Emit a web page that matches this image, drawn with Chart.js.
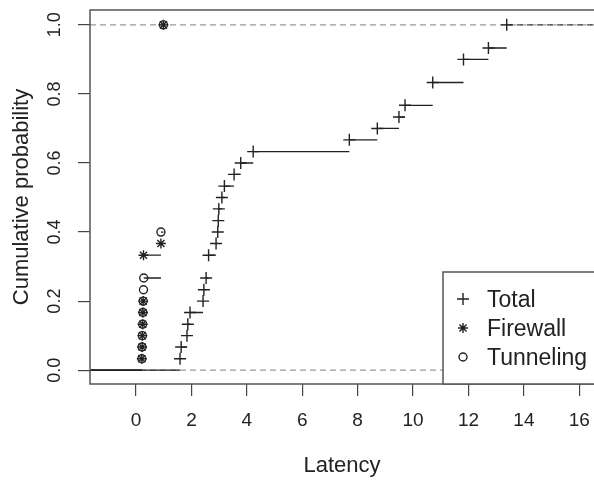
<!DOCTYPE html>
<html>
<head>
<meta charset="utf-8">
<script src="https://cdn.jsdelivr.net/npm/chart.js@4.4.0/dist/chart.umd.min.js"></script>
<style>
  body { margin: 0; background: #fff; }
  #wrap { width: 594px; height: 483px; position: relative; }
</style>
</head>
<body>
<div id="wrap"><canvas id="chart"></canvas></div>
<script>
// values (latency, cumulative probability)
const totalX = [1.59, 1.63, 1.84, 1.87, 1.95, 2.42, 2.45, 2.53, 2.62, 2.89, 2.95, 2.97, 2.99, 3.10, 3.19, 3.54, 3.78, 4.23, 7.70, 8.71, 9.49, 9.71, 10.71, 11.82, 12.72, 13.38]
const totalY = [0.033, 0.067, 0.100, 0.133, 0.167, 0.200, 0.233, 0.267, 0.333, 0.367, 0.400, 0.433, 0.467, 0.500, 0.533, 0.567, 0.600, 0.633, 0.667, 0.700, 0.733, 0.767, 0.833, 0.900, 0.933, 1.000]

const firewallX = [0.21, 0.22, 0.23, 0.24, 0.25, 0.26, 0.27, 0.90, 0.99]
const firewallY = [0.033, 0.067, 0.100, 0.133, 0.167, 0.200, 0.333, 0.367, 1.000]

const tunnelX = [0.21, 0.22, 0.23, 0.24, 0.25, 0.26, 0.27, 0.28, 0.90, 0.99]
const tunnelY = [0.033, 0.067, 0.100, 0.133, 0.167, 0.200, 0.233, 0.267, 0.400, 1.000]

const xTicks = [0, 2, 4, 6, 8, 10, 12, 14, 16]
const yTicks = [0, 0.2, 0.4, 0.6, 0.8, 1.0]

const xMin = -1.66, xMax = 16.53
const yMin = -0.04, yMax = 1.043

const font = "'Liberation Sans', Arial, Helvetica, sans-serif"
const ink = "#222"

// horizontal pieces of the step function, broken by null gaps
function steps(xs, ys) {
    const pts = [{x: xMin, y: 0}, {x: xs[0], y: 0}, {x: xs[0], y: null}]
    for (let i = 0; i < xs.length - 1; i++) {
        pts.push({x: xs[i], y: ys[i]}, {x: xs[i + 1], y: ys[i]}, {x: xs[i + 1], y: null})
    }
    return pts
}
const pts = (xs, ys) => xs.map((x, i) => ({x: x, y: ys[i]}))

const lineDs = (data, color, dash) => ({
    data: data, showLine: true, pointRadius: 0, borderColor: color,
    borderWidth: 1.3, borderDash: dash || [], spanGaps: false, fill: false
})

const markers = [
    {label: "Total", style: "cross", r: 6},
    {label: "Firewall", style: "star", r: 5},
    {label: "Tunneling", style: "circle", r: 4}
]

const frame = {
    id: "frame",
    afterDraw(chart) {
        const {ctx, chartArea: a} = chart
        ctx.save()
        ctx.strokeStyle = "#555"
        ctx.lineWidth = 1.5
        ctx.strokeRect(a.left, a.top, a.right - a.left + 20, a.bottom - a.top)

        // legend
        const lx = 443, ly = 272
        ctx.fillStyle = "#fff"
        ctx.fillRect(lx, ly, 200, a.bottom - ly)
        ctx.strokeRect(lx, ly, 200, a.bottom - ly)
        const rows = [299, 328, 357]
        ctx.strokeStyle = ink
        ctx.lineWidth = 1.4
        markers.forEach((m, i) => {
            const cx = 463, cy = rows[i], r = m.r
            ctx.beginPath()
            if (m.style === "circle") {
                ctx.arc(cx, cy, r, 0, Math.PI * 2)
            } else {
                ctx.moveTo(cx - r, cy); ctx.lineTo(cx + r, cy)
                ctx.moveTo(cx, cy - r); ctx.lineTo(cx, cy + r)
                if (m.style === "star") {
                    const d = r * Math.SQRT1_2
                    ctx.moveTo(cx - d, cy - d); ctx.lineTo(cx + d, cy + d)
                    ctx.moveTo(cx - d, cy + d); ctx.lineTo(cx + d, cy - d)
                }
            }
            ctx.stroke()
            ctx.fillStyle = ink
            ctx.font = "23px " + font
            ctx.textBaseline = "alphabetic"
            ctx.textAlign = "left"
            ctx.fillText(m.label, 487, cy + 8)
        })
        ctx.restore()
    }
}

const ctx = document.getElementById("chart")

new Chart(ctx, {
    type: "scatter",
    data: {
        datasets: [
            {label: "Total", data: pts(totalX, totalY), pointStyle: "cross", pointRadius: 6, borderColor: ink, borderWidth: 1.4, backgroundColor: "rgba(0,0,0,0)"},
            {label: "Firewall", data: pts(firewallX, firewallY), pointStyle: "star", pointRadius: 5, borderColor: ink, borderWidth: 1.4, backgroundColor: "rgba(0,0,0,0)"},
            {label: "Tunneling", data: pts(tunnelX, tunnelY), pointStyle: "circle", pointRadius: 4, borderColor: ink, borderWidth: 1.4, backgroundColor: "rgba(0,0,0,0)"},
            lineDs(steps(totalX, totalY), "#222"),
            lineDs(steps(firewallX, firewallY), "#222"),
            lineDs(steps(tunnelX, tunnelY), "#222"),
            lineDs([{x: totalX[totalX.length - 1], y: 1}, {x: xMax, y: 1}], "#444", [6, 4]),
            lineDs([{x: xMin, y: 0}, {x: xMax, y: 0}], "#999", [6, 4]),
            lineDs([{x: xMin, y: 1}, {x: xMax, y: 1}], "#999", [6, 4])
        ]
    },
    options: {
        responsive: true,
        maintainAspectRatio: false,
        animation: false,
        layout: {autoPadding: false, padding: {top: 10, right: 0, left: 0, bottom: 0}},
        plugins: {legend: {display: false}, tooltip: {enabled: false}},
        scales: {
            x: {
                type: "linear", min: xMin, max: xMax,
                afterBuildTicks: s => { s.ticks = xTicks.map(v => ({value: v})) },
                afterFit: s => { s.height = 99; s.paddingLeft = 0; s.paddingRight = 0 },
                grid: {drawOnChartArea: false, drawTicks: true, tickLength: 12, color: "#444", lineWidth: 1.2},
                border: {display: false},
                ticks: {color: ink, padding: 13, font: {size: 19, family: font}, callback: v => String(v)},
                title: {display: true, text: "Latency", color: ink, font: {size: 22, family: font}, padding: {top: 0, bottom: 4}}
            },
            y: {
                type: "linear", min: yMin, max: yMax,
                afterBuildTicks: s => { s.ticks = yTicks.map(v => ({value: v})) },
                afterFit: s => { s.width = 90; s.paddingTop = 0; s.paddingBottom = 0 },
                grid: {drawOnChartArea: false, drawTicks: true, tickLength: 12, color: "#444", lineWidth: 1.2},
                border: {display: false},
                ticks: {color: ink, minRotation: 90, maxRotation: 90, crossAlign: "center", padding: 10, font: {size: 18, family: font}, callback: v => v.toFixed(1)},
                title: {display: true, text: "Cumulative probability", color: ink, font: {size: 22, family: font}, padding: {top: 9, bottom: 0}}
            }
        }
    },
    plugins: [frame]
})
</script>
</body>
</html>
